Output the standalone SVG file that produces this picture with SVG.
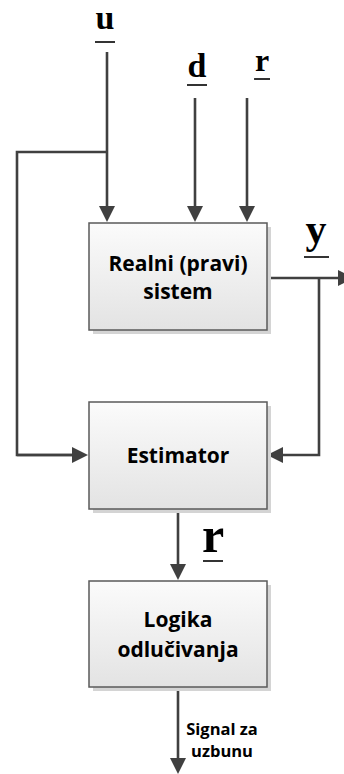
<svg xmlns="http://www.w3.org/2000/svg" width="344" height="774" viewBox="0 0 344 774">
  <style>
    .box { fill: url(#boxFill); stroke: #5a5a5a; stroke-width: 1.5; }
    .shadow { fill: #d4d4d4; }
    .label { font-family: "Open Sans", "Noto Sans", sans-serif; font-weight: bold; font-size: 21px; fill: #000; text-anchor: middle; }
    .small { font-size: 16.5px; }
    .var { font-family: "Liberation Serif", "Times New Roman", serif; font-weight: bold; fill: #000; text-anchor: middle; }
    .ul { stroke: #000; stroke-width: 1.6; }
    .wire { fill: none; stroke: #404040; stroke-width: 2.6; }
    .arrow { marker-end: url(#head); }
  </style>
  <defs>
    <linearGradient id="boxFill" x1="0" y1="0" x2="0" y2="1">
      <stop offset="0" stop-color="#fbfbfb"/>
      <stop offset="1" stop-color="#e3e3e3"/>
    </linearGradient>
    <marker id="head" viewBox="0 0 16 16" refX="2" refY="8" markerWidth="16" markerHeight="16" markerUnits="userSpaceOnUse" orient="auto">
      <path d="M0,0 L16,8 L0,16 z" fill="#404040"/>
    </marker>
  </defs>

  <!-- signal lines -->
  <g id="connectors">
    <path class="wire arrow" d="M107,52 L107,208"/>
    <path class="wire" d="M107,152 L17,152 L17,455 L74,455"/>
    <path class="wire arrow" d="M17,455 L74,455"/>
    <path class="wire arrow" d="M195,98 L195,208"/>
    <path class="wire arrow" d="M247,98 L247,208"/>
    <path class="wire arrow" d="M267,278 L340,278"/>
    <path class="wire arrow" d="M319,278 L319,455 L281,455"/>
    <path class="wire arrow" d="M178,509 L178,566"/>
    <path class="wire arrow" d="M178,687 L178,760"/>
  </g>

  <!-- input / output variables -->
  <g id="var-u">
    <text class="var" x="105" y="29" font-size="34">u</text>
    <line class="ul" x1="95" y1="42" x2="115" y2="42"/>
  </g>
  <g id="var-d">
    <text class="var" x="197" y="77" font-size="34">d</text>
    <line class="ul" x1="187" y1="85" x2="207" y2="85"/>
  </g>
  <g id="var-r-in">
    <text class="var" x="262" y="71" font-size="32">r</text>
    <line class="ul" x1="254" y1="79" x2="270" y2="79"/>
  </g>
  <g id="var-y">
    <text class="var" x="316" y="243" font-size="42">y</text>
    <line class="ul" x1="304" y1="257" x2="329" y2="257"/>
  </g>
  <g id="var-r-out">
    <text class="var" x="213" y="552" font-size="50">r</text>
    <line class="ul" x1="203" y1="561" x2="223" y2="561"/>
  </g>

  <!-- blocks -->
  <g id="real-system">
    <rect class="shadow" x="93" y="227" width="178" height="107"/>
    <rect class="box" x="89" y="223" width="178" height="107"/>
    <text class="label" x="178" y="271">Realni (pravi)</text>
    <text class="label" x="178" y="299">sistem</text>
  </g>
  <g id="estimator">
    <rect class="shadow" x="93" y="406" width="178" height="107"/>
    <rect class="box" x="89" y="402" width="178" height="107"/>
    <text class="label" x="178" y="463">Estimator</text>
  </g>
  <g id="decision-logic">
    <rect class="shadow" x="93" y="585" width="178" height="106"/>
    <rect class="box" x="89" y="581" width="178" height="106"/>
    <text class="label" x="178" y="627">Logika</text>
    <text class="label" x="178" y="657">odlučivanja</text>
  </g>

  <g id="alarm-label">
    <text class="label small" x="222" y="735">Signal za</text>
    <text class="label small" x="222" y="757">uzbunu</text>
  </g>
</svg>
